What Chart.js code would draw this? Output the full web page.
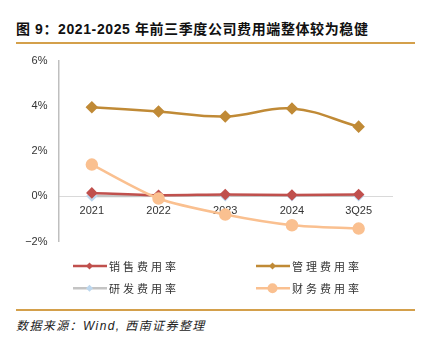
<!DOCTYPE html>
<html><head><meta charset="utf-8">
<script src="https://cdn.jsdelivr.net/npm/chart.js@4.4.1/dist/chart.umd.min.js"></script>
<style>
body{margin:0;width:432px;height:344px;background:#fff;position:relative;overflow:hidden;font-family:"Liberation Sans","Noto Sans CJK SC",sans-serif;}
#title{position:absolute;left:16px;top:22px;font-size:14px;line-height:14px;font-weight:bold;color:#111;white-space:nowrap;letter-spacing:0.6px;}
.rule{position:absolute;left:16px;width:399px;height:2px;background:#D4A04B;}
#src{position:absolute;left:16px;top:320px;font-size:12px;line-height:12px;font-style:italic;color:#222;letter-spacing:1.4px;white-space:nowrap;}
#c{position:absolute;left:0;top:43px;}
</style></head>
<body>
<div id="title">图 9：2021-2025 年前三季度公司费用端整体较为稳健</div>
<div class="rule" style="top:42px"></div>
<canvas id="c" width="432" height="265"></canvas>
<div class="rule" style="top:309px"></div>
<div id="src">数据来源：Wind, 西南证券整理</div>
<script>
const categories = ['2021', '2022', '2023', '2024', '3Q25'];
const seriesNames = ['销售费用率', '管理费用率', '研发费用率', '财务费用率'];
const sales = [0.15, 0.05, 0.08, 0.06, 0.08];
const admin = [3.94, 3.75, 3.53, 3.88, 3.08];
const rnd = [0.01, 0.02, 0.02, 0.02, 0.02];
const finance = [1.40, -0.10, -0.81, -1.28, -1.43];
const yMin = -2, yMax = 6, yStep = 2;

const colors = {
  sales: '#C0504D',
  admin: '#C08A36',
  rndLine: '#C4C4C4',
  rndPoint: '#BDD7EE',
  finance: '#FAC090'
};

function ds(label, data, line, point, style, radius, order, tension) {
  return {
    label, data, borderColor: line, backgroundColor: point,
    pointBackgroundColor: point, pointBorderColor: point,
    pointStyle: style, pointRadius: radius, pointHoverRadius: radius,
    borderWidth: 2.5, tension: tension, order: order, fill: false
  };
}

const legendPlugin = {
  id: 'customLegend',
  afterDraw(chart) {
    const ctx = chart.ctx;
    const pos = [[73, 223], [256, 223], [73, 245.3], [256, 245.3]];
    chart.data.datasets.forEach((d, i) => {
      const [x, y] = pos[i];
      ctx.save();
      ctx.strokeStyle = d.borderColor;
      ctx.lineWidth = 2.5;
      ctx.beginPath(); ctx.moveTo(x, y); ctx.lineTo(x + 34, y); ctx.stroke();
      ctx.fillStyle = d.pointBackgroundColor;
      const cx = x + 16.5;
      if (d.pointStyle === 'rectRot') {
        const r = 3.5;
        ctx.beginPath(); ctx.moveTo(cx, y - r); ctx.lineTo(cx + r, y); ctx.lineTo(cx, y + r); ctx.lineTo(cx - r, y); ctx.closePath(); ctx.fill();
      } else {
        ctx.beginPath(); ctx.arc(cx, y, i === 3 ? 5 : 3.5, 0, Math.PI * 2); ctx.fill();
      }
      ctx.fillStyle = '#333';
      ctx.font = '11px "Noto Sans CJK SC", sans-serif';
      ctx.letterSpacing = '3px';
      ctx.textBaseline = 'middle';
      ctx.textAlign = 'left';
      ctx.fillText(d.label, x + 36, y + 0.5);
      ctx.restore();
    });
  }
};

new Chart(document.getElementById('c'), {
  type: 'line',
  data: {
    labels: categories,
    datasets: [
      ds(seriesNames[0], sales, colors.sales, colors.sales, 'rectRot', 4, 2, 0.3),
      ds(seriesNames[1], admin, colors.admin, colors.admin, 'rectRot', 4.5, 1, 0.4),
      ds(seriesNames[2], rnd, colors.rndLine, colors.rndPoint, 'rectRot', 4, 3, 0.3),
      ds(seriesNames[3], finance, colors.finance, colors.finance, 'circle', 5, 0, 0.25)
    ]
  },
  options: {
    responsive: false,
    animation: false,
    devicePixelRatio: 1,
    layout: { padding: { left: 0, right: 40, top: 3, bottom: 66.5 } },
    plugins: { legend: { display: false }, tooltip: { enabled: false } },
    scales: {
      x: {
        type: 'category',
        offset: true,
        position: { y: 0 },
        grid: { display: false, drawTicks: false, offset: true },
        border: { display: true, color: '#D9D9D9', width: 1 },
        ticks: { color: '#333', font: { family: '"Liberation Sans", Arial, sans-serif', size: 11 }, padding: 8, maxRotation: 0 }
      },
      y: {
        min: yMin, max: yMax,
        grid: { display: false, drawTicks: false },
        border: { display: true, color: '#BFBFBF', width: 1.5 },
        afterFit(s) { s.width = 58.5; },
        ticks: {
          stepSize: yStep, padding: 11, color: '#333',
          font: { family: '"Liberation Sans", Arial, sans-serif', size: 11 },
          callback: v => (v < 0 ? '\u2212' + Math.abs(v) : v) + '%'
        }
      }
    }
  },
  plugins: [legendPlugin]
});
</script>
</body></html>
